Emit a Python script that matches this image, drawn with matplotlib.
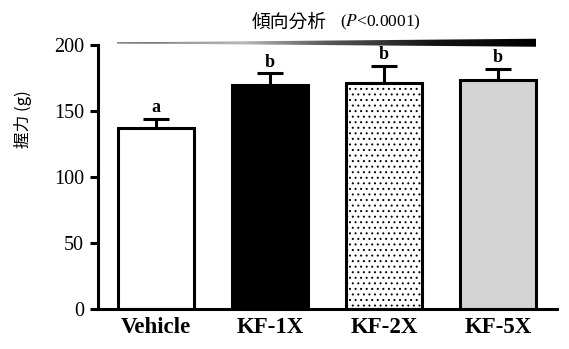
import numpy as np
import matplotlib.pyplot as plt
from matplotlib.colors import LinearSegmentedColormap
from matplotlib.patches import Polygon

plt.rcParams['font.family'] = ['Liberation Serif', 'Noto Sans CJK TC']
plt.rcParams['mathtext.fontset'] = 'stix'
plt.rcParams['hatch.linewidth'] = 0.7

# データ
groups = ['Vehicle', 'KF-1X', 'KF-2X', 'KF-5X']
grip = [137, 170, 171, 173.5]
sem = [7, 8.5, 13, 8.5]
letters = ['a', 'b', 'b', 'b']
faces = ['white', 'black', 'white', '#d4d4d4']
hatches = ['', '', '...', '']

fig = plt.figure(figsize=(5.69, 3.49), dpi=100, facecolor='white')
ax = fig.add_axes([0.172, 0.1146, 0.807, 0.7564])

x = np.arange(len(groups))
ax.bar(x, grip, width=0.67, color=faces, edgecolor='black', linewidth=2.2,
       hatch=hatches, zorder=2)
ax.errorbar(x, grip, yerr=[np.zeros(len(sem)), sem], fmt='none', ecolor='black',
            elinewidth=2.2, capsize=9.5, capthick=2.2, zorder=1)
for xi, g, s, l in zip(x, grip, sem, letters):
    ax.text(xi, g + s + 2.0, l, ha='center', va='bottom', fontsize=13,
            fontweight='bold')

ax.set_xlim(-0.51, 3.52)
ax.set_ylim(0, 200)
ax.set_yticks([0, 50, 100, 150, 200])
ax.set_xticks(x)
ax.set_xticklabels(groups, fontsize=16.5, fontweight='bold')
ax.tick_params(axis='y', labelsize=14.5, length=6, width=2.2, direction='out', pad=4)
ax.tick_params(axis='x', length=0, pad=6)
for s in ['top', 'right']:
    ax.spines[s].set_visible(False)
for s in ['left', 'bottom']:
    ax.spines[s].set_linewidth(2.2)

# 傾向分析のくさび (別の軸に描く)
wax = fig.add_axes([117 / 569, 1 - 48 / 349, (536 - 117) / 569, 10 / 349])
wax.set_axis_off()
wax.set_xlim(0, 1)
wax.set_ylim(-1, 1)
cmap = LinearSegmentedColormap.from_list(
    'wedge', [(0, '#3a3a3a'), (0.15, '#9a9a9a'), (0.3, '#b8b8b8'),
              (0.5, '#5a5a5a'), (0.75, '#151515'), (1, 'black')])
wedge = Polygon([[0, 0.12], [1, 0.85], [1, -0.75], [0, -0.08]], closed=True,
                facecolor='none', edgecolor='none')
wax.add_patch(wedge)
im = wax.imshow(np.linspace(0, 1, 256).reshape(1, -1), cmap=cmap, aspect='auto',
                extent=[0, 1, -1, 1])
im.set_clip_path(wedge)

fig.text(0.575, 0.937, '傾向分析', fontsize=13.5, family=['Noto Sans CJK TC'],
         ha='right', va='center')
fig.text(0.597, 0.935, r'($\it{P}$<0.0001)', fontsize=12.5, ha='left', va='center')

fig.text(0.04, 0.66, '握力 (g)', fontsize=12, rotation=90, ha='center',
         va='center', family=['Noto Sans CJK TC'])

fig.savefig('out.png', dpi=100, facecolor='white')
